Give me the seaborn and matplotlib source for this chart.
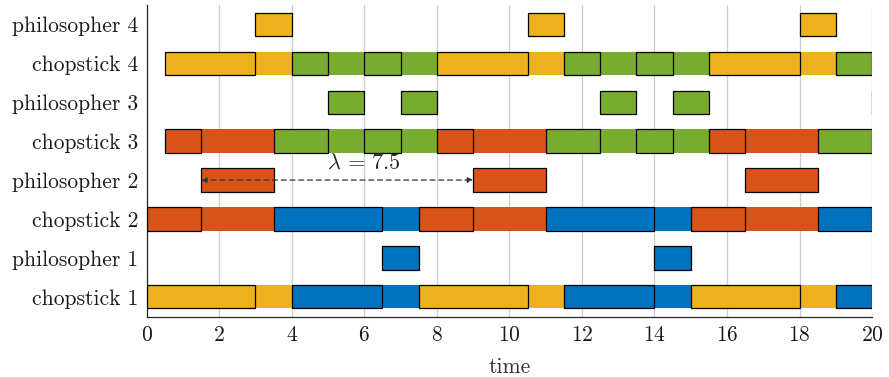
'''dining philosophers timeline'''
import matplotlib
matplotlib.use("Agg")
import matplotlib.pyplot as plt
import seaborn as sns

# rows from bottom to top
row_labels = ["chopstick 1", "philosopher 1", "chopstick 2", "philosopher 2",
              "chopstick 3", "philosopher 3", "chopstick 4", "philosopher 4"]

# eating intervals per philosopher
eat1 = [(6.5, 7.5), (14, 15)]
eat2 = [(1.5, 3.5), (9, 11), (16.5, 18.5)]
eat3 = [(5, 6), (7, 8), (12.5, 13.5), (14.5, 15.5), (20, 21)]
eat4 = [(3, 4), (10.5, 11.5), (18, 19)]

# chopstick held (waiting) intervals: start, end, philosopher
hold1 = [(0, 3, 4), (4, 6.5, 1), (7.5, 10.5, 4), (11.5, 14, 1), (15, 18, 4), (19, 20, 1)]
hold2 = [(0, 1.5, 2), (3.5, 6.5, 1), (7.5, 9, 2), (11, 14, 1), (15, 16.5, 2), (18.5, 20, 1)]
hold3 = [(0.5, 1.5, 2), (3.5, 5, 3), (6, 7, 3), (8, 9, 2), (11, 12.5, 3),
         (13.5, 14.5, 3), (15.5, 16.5, 2), (18.5, 20, 3)]
hold4 = [(0.5, 3, 4), (4, 5, 3), (6, 7, 3), (8, 10.5, 4), (11.5, 12.5, 3),
         (13.5, 14.5, 3), (15.5, 18, 4), (19, 20, 3)]

lam_start, lam_end = 1.5, 9
lam_text = r"$\lambda\,=\,7.5$"

sns.set_theme(style="white")
plt.rcParams["font.family"] = ["cmr10", "DejaVu Serif"]
plt.rcParams["mathtext.fontset"] = "cm"
plt.rcParams["axes.formatter.use_mathtext"] = True

colors = {1: "#0072BD", 2: "#D95319", 3: "#77AC30", 4: "#EDB120"}
eats = {1: eat1, 2: eat2, 3: eat3, 4: eat4}
holds = {1: hold1, 2: hold2, 3: hold3, 4: hold4}

fig = plt.figure(figsize=(8.89, 3.77), dpi=100)
ax = fig.add_axes([0.165, 0.159, 0.816, 0.828])
h = 0.6

for k in range(1, 5):
    chop_y = 2 * k - 1
    phil_y = 2 * k
    other = 4 if k == 1 else k - 1
    # eating phases shown on the chopstick rows without outline
    for p in (k, other):
        for s, e in eats[p]:
            ax.barh(chop_y, e - s, left=s, height=h, color=colors[p],
                    edgecolor="none", zorder=2)
    for s, e, p in holds[k]:
        ax.barh(chop_y, e - s, left=s, height=h, color=colors[p],
                edgecolor="black", linewidth=0.9, zorder=3)
    for s, e in eats[k]:
        ax.barh(phil_y, e - s, left=s, height=h, color=colors[k],
                edgecolor="black", linewidth=0.9, zorder=3)

ax.annotate("", xy=(lam_end, 4), xytext=(lam_start, 4),
            arrowprops=dict(arrowstyle="<|-|>", linestyle=(0, (4, 3)), color="#333333",
                            lw=0.9, shrinkA=0, shrinkB=0, mutation_scale=8), zorder=4)
ax.text(6.0, 4.45, lam_text, ha="center", va="center", fontsize=16, zorder=4)

ax.set_xlim(0, 20)
ax.set_ylim(0.48, 8.5)
ax.set_xticks(range(0, 21, 2))
ax.set_yticks(range(1, 9))
ax.set_yticklabels(row_labels)
ax.grid(axis="x", color="#cccccc", linewidth=0.9, zorder=0)
ax.set_axisbelow(True)
for side in ("top", "right"):
    ax.spines[side].set_visible(False)
for side in ("left", "bottom"):
    ax.spines[side].set_color("#262626")
    ax.spines[side].set_linewidth(0.9)
ax.tick_params(axis="both", direction="in", length=5, color="#999999",
               labelsize=15.5, labelcolor="#1a1a1a", pad=6)
ax.set_xlabel("time", fontsize=15.5, color="#333333", labelpad=9)

fig.savefig("out.png", dpi=100)
